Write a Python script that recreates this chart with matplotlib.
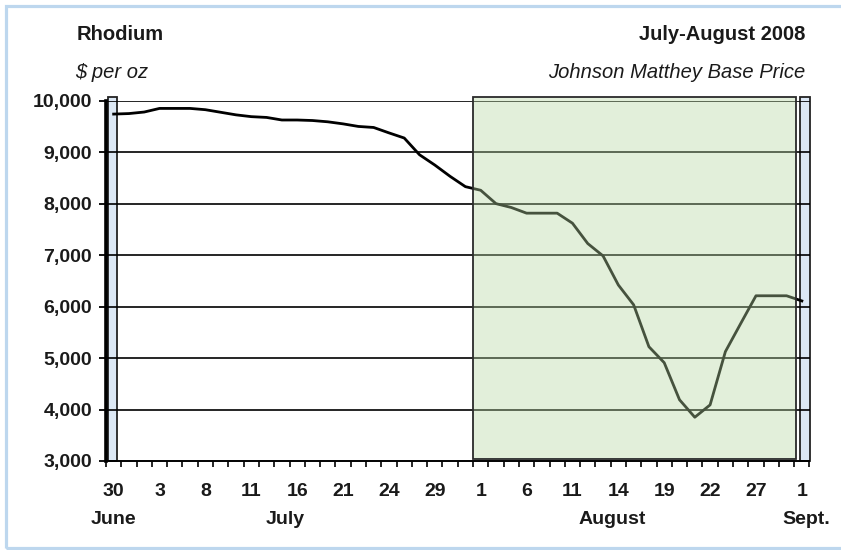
import matplotlib
matplotlib.use("Agg")
import matplotlib.pyplot as plt
from matplotlib.patches import Rectangle
from matplotlib.transforms import blended_transform_factory

plt.rcParams['font.family'] = ['Liberation Sans', 'DejaVu Sans']

# Rhodium, Johnson Matthey base price, $/oz, every weekday 30 June - 1 Sept 2008
precos = [9740, 9750, 9780, 9850, 9850, 9850, 9825, 9775, 9725, 9690,
          9675, 9625, 9625, 9615, 9590, 9550, 9500, 9480, 9375, 9275,
          8950, 8750, 8530, 8330, 8260, 8000, 7925, 7815, 7815, 7815,
          7620, 7225, 6985, 6420, 6035, 5220, 4910, 4190, 3850, 4090,
          5125, 5670, 6210, 6210, 6210, 6110]

rotulosDias = ['30', '3', '8', '11', '16', '21', '24', '29',
               '1', '6', '11', '14', '19', '22', '27', '1']
posDias = list(range(0, 46, 3))

meses = ['June', 'July', 'August', 'Sept.']
posMeses = [0, 11.2, 32.6, 45.3]

valoresY = [3000, 4000, 5000, 6000, 7000, 8000, 9000, 10000]
rotulosY = ['3,000', '4,000', '5,000', '6,000', '7,000', '8,000', '9,000', '10,000']

corTexto = '#1a1a1a'

fig = plt.figure(figsize=(8.41, 5.5), dpi=100)
ax = fig.add_axes([106 / 841, 89 / 550, 703.5 / 841, 360.3 / 550])

x = list(range(len(precos)))

# grade horizontal
for v in valoresY[1:]:
    ax.axhline(v, color='black', lw=1.2, zorder=1)

ax.plot(x, precos, color='black', lw=2.0, zorder=2, solid_joinstyle='round')

# faixas: fim de junho, agosto, inicio de setembro
azul = '#dce8f5'
ax.add_patch(Rectangle((-0.37, 3000), 0.58, 7075, facecolor=azul, edgecolor='#222222',
                       lw=1.3, zorder=0.5, clip_on=False))
ax.add_patch(Rectangle((44.85, 3000), 0.65, 7075, facecolor=azul, edgecolor='#222222',
                       lw=1.3, zorder=0.5, clip_on=False))
ax.add_patch(Rectangle((23.5, 3030), 21.1, 7045, facecolor='#b5d6a0', alpha=0.39,
                       edgecolor='none', zorder=3, clip_on=False))
ax.add_patch(Rectangle((23.5, 3030), 21.1, 7045, fill=False, edgecolor='#2a2a2a',
                       lw=1.3, zorder=4, clip_on=False))

ax.set_xlim(-0.5, 45.5)
ax.set_ylim(3000, 10000)

ax.spines['top'].set_visible(False)
ax.spines['right'].set_visible(False)
ax.spines['left'].set_linewidth(2.6)
ax.spines['bottom'].set_linewidth(1.4)
ax.spines['left'].set_zorder(5)
ax.spines['bottom'].set_zorder(5)

ax.set_yticks(valoresY)
ax.set_yticklabels(rotulosY, fontsize=14, fontweight='bold', color=corTexto)
ax.tick_params(axis='y', direction='out', length=5, width=1.3, pad=5)

ax.set_xticks(posDias)
ax.set_xticklabels(rotulosDias, fontsize=14, fontweight='bold', color=corTexto)
ax.set_xticks([i - 0.5 for i in range(47)], minor=True)
ax.tick_params(axis='x', which='major', length=0, pad=16)
ax.tick_params(axis='x', which='minor', direction='out', length=4, width=1.2)

trans = blended_transform_factory(ax.transData, ax.transAxes)
for nome, p in zip(meses, posMeses):
    ax.text(p, -0.163, nome, transform=trans, ha='center', va='center',
            fontsize=14, fontweight='bold', color=corTexto)

fig.text(77 / 841, 1 - 35 / 550, 'Rhodium', ha='left', va='center',
         fontsize=14.5, fontweight='bold', color=corTexto)
fig.text(75 / 841, 1 - 73 / 550, '$ per oz', ha='left', va='center',
         fontsize=14.5, style='italic', color=corTexto)
fig.text(805 / 841, 1 - 35 / 550, 'July-August 2008', ha='right', va='center',
         fontsize=14.5, fontweight='bold', color=corTexto)
fig.text(805 / 841, 1 - 73 / 550, 'Johnson Matthey Base Price', ha='right', va='center',
         fontsize=14.5, style='italic', color=corTexto)

# moldura azul clara
fig.add_artist(Rectangle((5.5 / 841, 2 / 550), 1.2, 542.5 / 550, transform=fig.transFigure,
                         fill=False, edgecolor='#bdd7ee', lw=2.3, clip_on=False))

fig.savefig('out.png', dpi=100)
